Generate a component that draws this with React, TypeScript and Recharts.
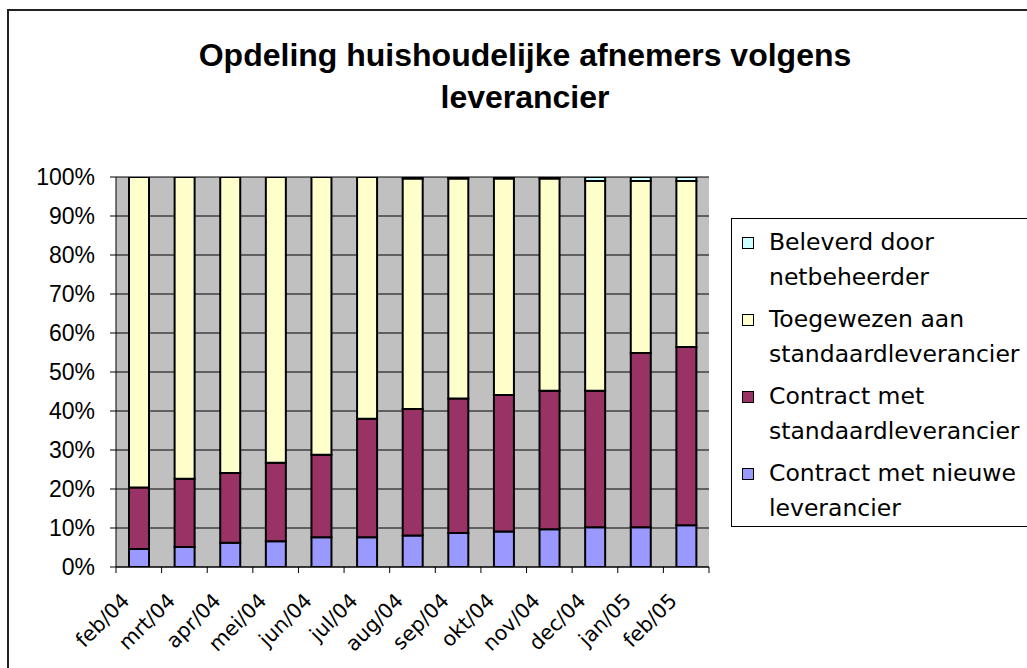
import React from 'react';
import { BarChart, Bar, XAxis, YAxis, CartesianGrid, Legend } from 'recharts';

const months = ['feb/04', 'mrt/04', 'apr/04', 'mei/04', 'jun/04', 'jul/04', 'aug/04', 'sep/04', 'okt/04', 'nov/04', 'dec/04', 'jan/05', 'feb/05'];
const nieuwe = [4.6, 5.1, 6.2, 6.6, 7.6, 7.6, 8.1, 8.7, 9.1, 9.7, 10.2, 10.2, 10.7];
const contractStd = [15.8, 17.5, 17.9, 20.1, 21.2, 30.4, 32.4, 34.5, 35.0, 35.5, 35.0, 44.7, 45.7];
const toegewezen = [79.6, 77.4, 75.9, 73.3, 71.2, 62.0, 59.1, 56.4, 55.5, 54.4, 53.8, 44.1, 42.6];
const beleverd = [0, 0, 0, 0, 0, 0, 0.4, 0.4, 0.4, 0.4, 1.0, 1.0, 1.0];
const yTicks = [0, 10, 20, 30, 40, 50, 60, 70, 80, 90, 100];

const titleLines = ['Opdeling huishoudelijke afnemers volgens', 'leverancier'];

const series = [
  { key: 'nieuwe', name: 'Contract met nieuwe leverancier', lines: ['Contract met nieuwe', 'leverancier'], color: '#9999FF' },
  { key: 'contractStd', name: 'Contract met standaardleverancier', lines: ['Contract met', 'standaardleverancier'], color: '#993366' },
  { key: 'toegewezen', name: 'Toegewezen aan standaardleverancier', lines: ['Toegewezen aan', 'standaardleverancier'], color: '#FFFFCC' },
  { key: 'beleverd', name: 'Beleverd door netbeheerder', lines: ['Beleverd door', 'netbeheerder'], color: '#CCFFFF' },
];

const data = months.map((m, i) => ({
  month: m,
  nieuwe: nieuwe[i],
  contractStd: contractStd[i],
  toegewezen: toegewezen[i],
  beleverd: beleverd[i],
}));

const CHART_W = 1019;
const CHART_H = 660;
const MARGIN = { top: 169, right: 318, bottom: 0, left: 0 };
const Y_W = 108;
const PLOT_W = CHART_W - MARGIN.right - Y_W;
const STEP = PLOT_W / months.length;

function XTick(props: any) {
  const { x, y, payload, index } = props;
  const tx = x - 8;
  const ty = y + 35;
  return (
    <g>
      <line x1={x - STEP / 2} x2={x - STEP / 2} y1={y} y2={y + 6} stroke="#000" strokeWidth={1} />
      {index === months.length - 1 && (
        <line x1={x + STEP / 2} x2={x + STEP / 2} y1={y} y2={y + 6} stroke="#000" strokeWidth={1} />
      )}
      <text
        x={tx}
        y={ty}
        textAnchor="end"
        transform={`rotate(-45 ${tx} ${ty})`}
        fontFamily="'DejaVu Sans', Verdana, sans-serif"
        fontSize={20.5}
        fill="#000"
      >
        {payload.value}
      </text>
    </g>
  );
}

function LegendContent() {
  const items = [...series].reverse();
  return (
    <div
      style={{
        border: '1px solid #000',
        background: '#fff',
        boxSizing: 'border-box',
        width: 320,
        height: 309,
        paddingTop: 6,
        fontFamily: "'DejaVu Sans', Verdana, sans-serif",
        fontSize: 23.5,
        color: '#000',
      }}
    >
      {items.map((s, i) => (
        <div key={s.key} style={{ position: 'relative', marginBottom: i < items.length - 1 ? 7 : 0 }}>
          <div
            style={{
              position: 'absolute',
              left: 10,
              top: 12,
              width: 10,
              height: 10,
              background: s.color,
              border: '1px solid #000',
            }}
          />
          <div style={{ paddingLeft: 37, lineHeight: '35px', whiteSpace: 'nowrap' }}>
            {s.lines.map((l) => (
              <div key={l}>{l}</div>
            ))}
          </div>
        </div>
      ))}
    </div>
  );
}

export default function App() {
  return (
    <>
      <style>{`html,body{margin:0;padding:0;overflow:hidden;background:#fff;}`}</style>
      <div
        style={{
          position: 'absolute',
          left: 7,
          top: 9,
          width: 1100,
          height: 700,
          borderLeft: '2px solid #222',
          borderTop: '2px solid #222',
        }}
      />
      <div style={{ position: 'absolute', left: 8, top: 8, width: CHART_W, height: CHART_H }}>
        <div
          style={{
            position: 'absolute',
            left: 17,
            top: 26,
            width: 1000,
            textAlign: 'center',
            fontFamily: "'Liberation Sans', Arial, sans-serif",
            fontWeight: 'bold',
            fontSize: 32,
            lineHeight: '42px',
            color: '#000',
            zIndex: 2,
          }}
        >
          {titleLines.map((t) => (
            <div key={t}>{t}</div>
          ))}
        </div>
        <BarChart width={CHART_W} height={CHART_H} data={data} margin={MARGIN}>
          <CartesianGrid vertical={false} horizontal stroke="#000" strokeWidth={1} fill="#C0C0C0" />
          <XAxis
            dataKey="month"
            interval={0}
            height={101}
            tickLine={false}
            tickSize={0}
            tickMargin={0}
            axisLine={{ stroke: '#000', strokeWidth: 1 }}
            tick={<XTick />}
          />
          <YAxis
            width={Y_W}
            domain={[0, 100]}
            ticks={yTicks}
            tickFormatter={(v: number) => `${v}%`}
            tickSize={6}
            tickMargin={15}
            tickLine={{ stroke: '#000' }}
            axisLine={{ stroke: '#000', strokeWidth: 1 }}
            tick={{ fontFamily: "'Liberation Sans', Arial, sans-serif", fontSize: 23, fill: '#000' }}
            allowDataOverflow
          />
          <YAxis
            yAxisId="right"
            orientation="right"
            width={0}
            domain={[0, 100]}
            tick={false}
            tickLine={false}
            axisLine={{ stroke: '#808080', strokeWidth: 1 }}
          />
          {series.map((s) => (
            <Bar
              key={s.key}
              dataKey={s.key}
              name={s.name}
              stackId="a"
              fill={s.color}
              stroke="#000"
              strokeWidth={2}
              barSize={20}
              isAnimationActive={false}
            />
          ))}
          <Legend
            layout="vertical"
            align="center"
            verticalAlign="middle"
            wrapperStyle={{ left: 723, top: 210, width: 320, height: 309 }}
            content={<LegendContent />}
          />
        </BarChart>
      </div>
    </>
  );
}
